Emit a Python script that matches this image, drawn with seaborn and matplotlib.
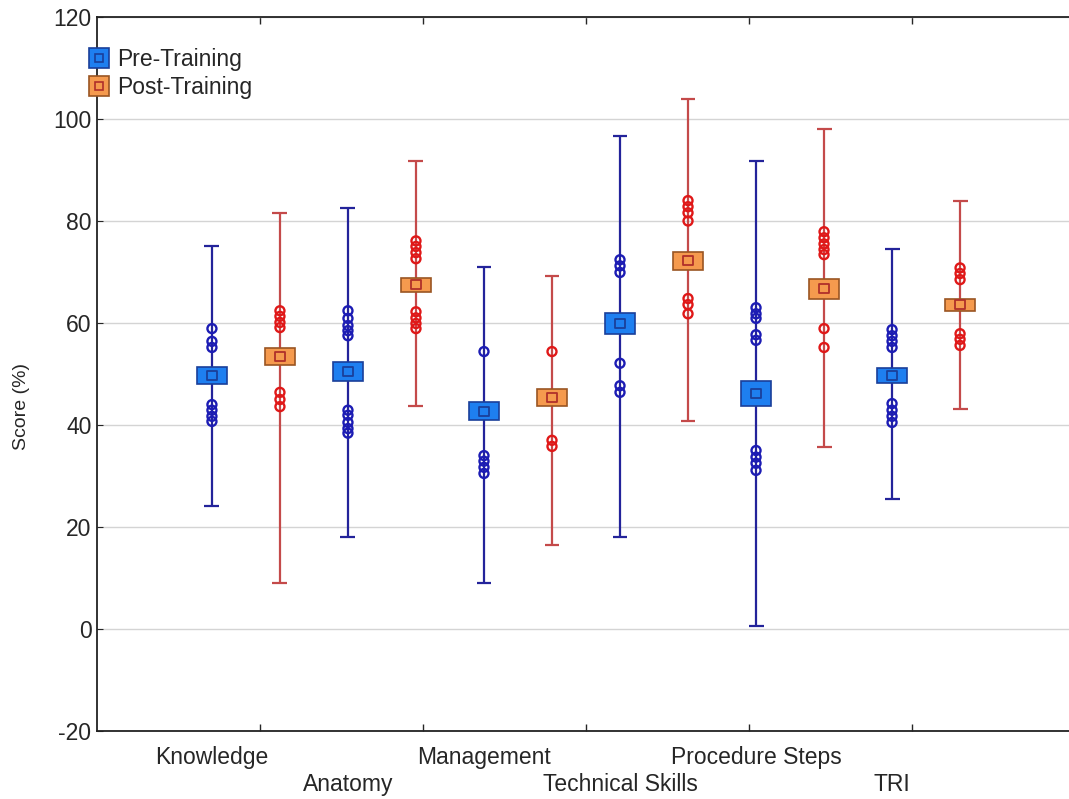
import numpy as np
import pandas as pd
import matplotlib.pyplot as plt
import seaborn as sns
from matplotlib.lines import Line2D

# chart values
categories = ['Knowledge', 'Anatomy', 'Management', 'Technical Skills', 'Procedure Steps', 'TRI']

pre_mean = [49.7, 50.5, 42.7, 59.9, 46.2, 49.7]
pre_se = [1.6, 1.8, 1.8, 2.0, 2.5, 1.4]
pre_low = [24.1, 18.0, 9.0, 18.0, 0.6, 25.4]
pre_high = [75.1, 82.6, 71.0, 96.7, 91.8, 74.6]

post_mean = [53.4, 67.5, 45.4, 72.2, 66.7, 63.6]
post_se = [1.7, 1.4, 1.6, 1.8, 1.9, 1.2]
post_low = [9.0, 43.8, 16.4, 40.7, 35.6, 43.1]
post_high = [81.6, 91.8, 69.3, 103.9, 98.0, 84.0]

pre_points = [
    [58.9, 56.4, 55.2, 44.0, 42.9, 41.7, 40.7],
    [62.4, 60.9, 59.5, 58.5, 57.5, 42.9, 41.9, 40.5, 39.3, 38.4],
    [54.4, 34.0, 32.9, 31.7, 30.5],
    [72.4, 71.2, 69.9, 52.1, 47.7, 46.4],
    [63.0, 61.8, 60.9, 57.7, 56.6, 35.0, 33.7, 32.5, 31.1],
    [58.7, 57.5, 56.4, 55.2, 44.2, 42.9, 41.7, 40.5],
]
post_points = [
    [62.4, 61.3, 60.1, 59.1, 46.4, 45.0, 43.6],
    [76.1, 75.0, 73.8, 72.6, 62.2, 61.0, 59.9, 58.9],
    [54.4, 37.0, 35.8],
    [84.0, 82.8, 81.6, 80.0, 64.8, 63.6, 61.8],
    [77.9, 76.7, 75.5, 74.4, 73.4, 58.9, 55.2],
    [70.8, 69.7, 68.5, 57.9, 56.8, 55.6],
]

# colours
pre_line, post_line = '#23239a', '#c44a4a'
pre_dot, post_dot = '#1c1cb4', '#e01818'
pre_box, post_box = '#1e7ff0', '#f59a4e'
pre_edge, post_edge = '#1a3f9a', '#9a5522'

sns.set_style('white')
plt.rcParams['font.family'] = ['Liberation Sans', 'DejaVu Sans']
plt.rcParams['axes.unicode_minus'] = False

fig = plt.figure(figsize=(10.69, 7.99), dpi=100)
ax = fig.add_axes([97 / 1069, 68 / 799, 978 / 1069, 714 / 799])

n = len(categories)
pre_x = np.arange(n) * 2
post_x = pre_x + 1

# whiskers + caps
cap = 0.11
for xs, lo, hi, col in [(pre_x, pre_low, pre_high, pre_line), (post_x, post_low, post_high, post_line)]:
    ax.vlines(xs, lo, hi, color=col, lw=1.6, zorder=2)
    ax.hlines(lo, xs - cap, xs + cap, color=col, lw=1.6, zorder=2)
    ax.hlines(hi, xs - cap, xs + cap, color=col, lw=1.6, zorder=2)

# outlier circles
rows = []
for i in range(n):
    for v in pre_points[i]:
        rows.append({'x': pre_x[i], 'score': v, 'phase': 'Pre-Training'})
    for v in post_points[i]:
        rows.append({'x': post_x[i], 'score': v, 'phase': 'Post-Training'})
pts = pd.DataFrame(rows)

ncoll = len(ax.collections)
sns.scatterplot(data=pts, x='x', y='score', hue='phase',
                palette={'Pre-Training': pre_dot, 'Post-Training': post_dot},
                marker='o', s=42, linewidth=1.7, legend=False, ax=ax, zorder=3)
dots = ax.collections[ncoll]
dots.set_facecolor('none')
dots.set_edgecolors([pre_dot if p == 'Pre-Training' else post_dot for p in pts['phase']])

# mean +/- se boxes
ax.bar(pre_x, 2 * np.array(pre_se), bottom=np.array(pre_mean) - np.array(pre_se), width=0.43,
       color=pre_box, edgecolor=pre_edge, linewidth=1.2, zorder=4)
ax.bar(post_x, 2 * np.array(post_se), bottom=np.array(post_mean) - np.array(post_se), width=0.43,
       color=post_box, edgecolor=post_edge, linewidth=1.2, zorder=4)

# small squares at the means
means = pd.DataFrame({'x': np.concatenate([pre_x, post_x]),
                      'score': pre_mean + post_mean,
                      'phase': ['Pre-Training'] * n + ['Post-Training'] * n})
ncoll = len(ax.collections)
sns.scatterplot(data=means, x='x', y='score', marker='s', s=45, legend=False, ax=ax, zorder=5)
sq = ax.collections[ncoll]
sq.set_facecolor('none')
sq.set_edgecolors([pre_edge] * n + ['#b0302a'] * n)
sq.set_linewidth(1.3)

# axes
ax.set_ylim(-20, 120)
ax.set_yticks(np.arange(-20, 121, 20))
ax.set_xlim(5.5 - 7.19, 5.5 + 7.19)
# staggered category labels: first row on the main axis, second row on a secondary axis
ax.set_xticks(pre_x[::2])
ax.set_xticklabels(categories[::2])
sec = ax.secondary_xaxis('bottom')
sec.set_xticks(pre_x[1::2])
sec.set_xticklabels(categories[1::2])
sec.tick_params(length=0, pad=30.5, labelsize=16.5)
sec.spines['bottom'].set_visible(False)
lo, hi = ax.get_xlim()
ax.set_xticks([lo + k * (hi - lo) / 6 for k in range(1, 6)], minor=True)
ax.tick_params(axis='x', which='major', length=0, pad=11, labelsize=16.5)
ax.tick_params(axis='x', which='minor', direction='in', length=5, top=True, bottom=True, width=1)
ax.tick_params(axis='y', direction='in', length=4, labelsize=16.5, left=True, pad=4)
ax.yaxis.grid(True, color='#d4d4d4', lw=1)
ax.set_axisbelow(True)
for s in ax.spines.values():
    s.set_color('#222222')
    s.set_linewidth(1.3)
ax.set_xlabel('')
ax.set_ylabel('Score (%)', fontsize=14)
ax.yaxis.set_label_coords(-0.069, 0.455)

handles = [
    (Line2D([], [], ls='', marker='s', ms=15, mfc=pre_box, mec=pre_edge, mew=1.2),
     Line2D([], [], ls='', marker='s', ms=6, mfc='none', mec=pre_edge, mew=1.2)),
    (Line2D([], [], ls='', marker='s', ms=15, mfc=post_box, mec=post_edge, mew=1.2),
     Line2D([], [], ls='', marker='s', ms=6, mfc='none', mec='#b0302a', mew=1.2)),
]
ax.legend(handles, ['Pre-Training', 'Post-Training'], loc='upper left', bbox_to_anchor=(-0.019, 0.969),
          frameon=False, fontsize=16.5, handlelength=1.0, handletextpad=0.3, labelspacing=0.2,
          borderaxespad=0)

fig.savefig('out.png', dpi=100)
